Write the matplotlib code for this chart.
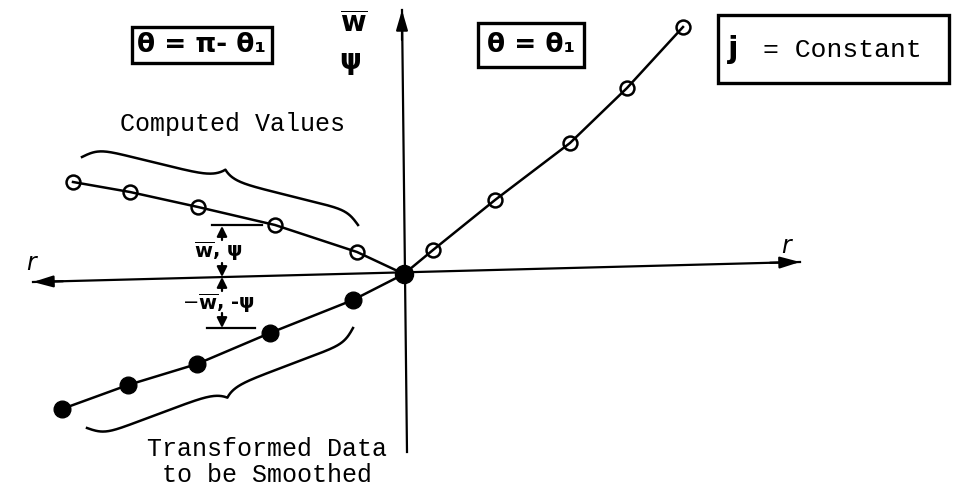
import numpy as np
import matplotlib
matplotlib.use("Agg")
import matplotlib.pyplot as plt
from matplotlib.patches import Rectangle

# ---- sketch data (r, w) in drawing units, origin at the axes crossing ----
r_right = [29, 91, 166, 223, 279]            # theta = theta_1 branch (open circles)
w_right = [24, 74, 131, 186, 247]

r_computed = [-47, -129, -206, -274, -331]    # theta = pi - theta_1, computed values
w_computed = [22, 49, 67, 82, 92]

r_transformed = [-51, -134, -207, -276, -342]  # reflected data to be smoothed
w_transformed = [-26, -59, -90, -111, -135]

box_left = "θ = π- θ₁"
box_mid = "θ = θ₁"
label_computed = "Computed Values"
label_transformed = "Transformed Data\nto be Smoothed"

W, H = 954, 496
X0, Y0 = 404, 274          # pixel position of the origin


def P(x, y):
    """pixel position -> drawing units"""
    return (x - X0, Y0 - y)


fig = plt.figure(figsize=(W / 100, H / 100), dpi=100)
ax = fig.add_axes([0, 0, 1, 1])
ax.set_xlim(-X0, W - X0)
ax.set_ylim(Y0 - H, Y0)
ax.axis("off")

mono = "Liberation Mono"
hand = dict(fontweight="bold", family="DejaVu Sans")
plt.rcParams["mathtext.fontset"] = "dejavusans"

# ---- axes with arrowheads ----
axis_kw = dict(color="black", lw=1.6)
head = dict(arrowstyle="-|>,head_length=1.2,head_width=0.35",
            color="black", lw=1.6, shrinkA=0, shrinkB=0)
xl, yl = P(33, 282)
xr, yr = P(800, 262)
ax.plot([xl, xr], [yl, yr], **axis_kw)
ax.annotate("", xy=(xr, yr), xytext=(xr - 30, yr - 0.8), arrowprops=head)
ax.annotate("", xy=(xl, yl), xytext=(xl + 30, yl + 0.8), arrowprops=head)
xb, yb = P(407, 452)
xt, yt = P(402, 10)
ax.plot([xb, xt], [yb, yt], **axis_kw)
ax.annotate("", xy=(xt, yt), xytext=(xt, yt - 30), arrowprops=head)

# axis labels
ax.text(*P(787, 246), r"$\mathbf{\it{r}}$", fontsize=17, ha="center", va="center")
ax.text(*P(32, 263), r"$\mathbf{\it{r}}$", fontsize=17, ha="center", va="center")
ax.text(*P(354, 24), r"$\overline{\mathbf{w}}$", fontsize=20, ha="center", va="center")
ax.text(*P(350, 61), "ψ", fontsize=20, ha="center", va="center", **hand)

# ---- curves and points ----
line_kw = dict(color="black", lw=1.8, zorder=3)
ax.plot([0] + r_right, [0] + w_right, **line_kw)
ax.plot([0] + r_computed, [0] + w_computed, **line_kw)
ax.plot([0] + r_transformed, [0] + w_transformed, **line_kw)

open_kw = dict(marker="o", ms=10, mfc="none", mec="black", mew=1.8, ls="none", zorder=4)
ax.plot(r_right, w_right, **open_kw)
ax.plot(r_computed, w_computed, **open_kw)
ax.plot(r_transformed, w_transformed, marker="o", ms=12, color="black", ls="none", zorder=4)
ax.plot([0], [0], marker="o", ms=13, color="black", ls="none", zorder=5)


# ---- curly braces ----
def brace(a, b, h1, h2, side):
    """curly brace between pixel points a and b, bulging to `side` (unit normal in pixels)"""
    a = np.array(a, float)
    b = np.array(b, float)
    d = b - a
    n = np.array(side, float)
    n /= np.hypot(*n)
    q = np.linspace(0, 0.5, 200)
    s1, s2 = 0.05, 0.035
    v = h1 * np.tanh(q / s1) + (h2 - h1) * np.exp(-(0.5 - q) / s2)
    v -= v[0]
    t = np.concatenate([q, 1 - q[::-1]])
    v = np.concatenate([v, v[::-1]])
    pts = a[None, :] + t[:, None] * d[None, :] + v[:, None] * n[None, :]
    xs, ys = zip(*[P(x, y) for x, y in pts])
    ax.plot(xs, ys, color="black", lw=1.8)


brace((82, 157), (358, 225), 12, 22, (0.246, -0.969))
brace((87, 428), (353, 328), 12, 21, (0.352, 0.937))

ax.text(*P(233, 124), label_computed, family=mono, fontsize=18, ha="center", va="center")
ax.text(*P(267, 462), label_transformed, family=mono, fontsize=18, ha="center",
        va="center", linespacing=1.15)

# ---- dimension arrows at r between the two branches ----
dim_kw = dict(arrowstyle="-|>,head_length=0.6,head_width=0.3", color="black", lw=1.6,
              shrinkA=0, shrinkB=0)
ax.plot(*zip(P(212, 225), P(262, 225)), color="black", lw=1.6)
ax.plot(*zip(P(207, 328), P(255, 328)), color="black", lw=1.6)
ax.annotate("", xy=P(222, 226), xytext=P(222, 240), arrowprops=dim_kw)
ax.annotate("", xy=P(222, 277), xytext=P(222, 263), arrowprops=dim_kw)
ax.annotate("", xy=P(222, 277), xytext=P(222, 291), arrowprops=dim_kw)
ax.annotate("", xy=P(222, 328), xytext=P(222, 313), arrowprops=dim_kw)
ax.text(*P(218, 251), r"$\overline{\mathbf{w}}$, ψ", fontsize=14, ha="center",
        va="center", **hand)
ax.text(*P(218, 303), r"$-\overline{\mathbf{w}}$, -ψ", fontsize=14, ha="center",
        va="center", **hand)

# ---- boxed labels ----
ax.text(*P(202, 45), box_left, fontsize=19, ha="center", va="center",
        bbox=dict(boxstyle="square,pad=0.2", fc="white", ec="black", lw=2.4), **hand)
ax.text(*P(531, 45), box_mid, fontsize=19, ha="center", va="center",
        bbox=dict(boxstyle="square,pad=0.35", fc="white", ec="black", lw=2.4), **hand)

x1, y1 = P(718, 83)
x2, y2 = P(949, 15)
ax.add_patch(Rectangle((x1, y1), x2 - x1, y2 - y1, fill=False, ec="black", lw=2.4))
ax.text(*P(733, 50), "j", fontsize=22, ha="center", va="center", **hand)
ax.text(*P(842, 50), "= Constant", family=mono, fontsize=19, ha="center", va="center")

fig.savefig("out.png", dpi=100)
